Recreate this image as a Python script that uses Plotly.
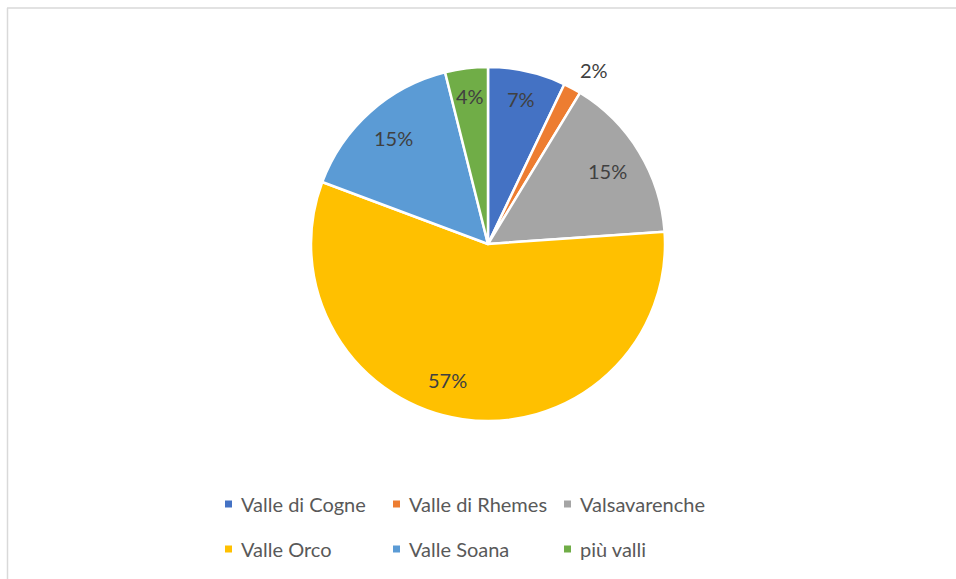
import math
import plotly.graph_objects as go

# Share of records by valley (percent)
valleys = ["Valle di Cogne", "Valle di Rhemes", "Valsavarenche",
           "Valle Orco", "Valle Soana", "più valli"]
shares = [7.1, 1.6, 15.2, 56.8, 15.4, 3.9]

colors = ["#4472C4", "#ED7D31", "#A5A5A5", "#FFC000", "#5B9BD5", "#70AD47"]

W, H = 956, 579
CX, CY, R = 488, 244, 177          # pie centre and radius in pixels
FONT = "Lato"
FSIZE = 20

# label radius as fraction of R (the thin slice gets its label outside)
label_r = [0.84, 1.15, 0.79, 0.80, 0.80, 0.84]
label_shift = [0, 3.0, 0, 8.5, 0, 0]   # degrees, clockwise

def px(x):
    return x / W

def py(y):
    return 1 - y / H

fig = go.Figure(go.Pie(
    labels=valleys,
    values=shares,
    sort=False,
    direction="clockwise",
    rotation=0,
    marker=dict(colors=colors, line=dict(color="white", width=2.5)),
    textinfo="none",
    hoverinfo="label+percent",
    showlegend=False,
    domain=dict(x=[px(CX - R), px(CX + R)], y=[py(CY + R), py(CY - R)]),
))

annotations = []
shapes = []

# percentage labels placed along each slice's mid-angle
total = sum(shares)
cum = 0.0
for i, v in enumerate(shares):
    mid = (cum + v / 2) / total * 360 + label_shift[i]
    cum += v
    a = math.radians(mid)
    r = R * label_r[i]
    x = CX + r * math.sin(a)
    y = CY - r * math.cos(a)
    annotations.append(dict(
        x=px(x), y=py(y), xref="paper", yref="paper",
        text=f"{round(v / total * 100)}%", showarrow=False,
        xanchor="center", yanchor="middle",
        font=dict(family=FONT, size=FSIZE, color="#404040"),
    ))

# legend: two rows of three entries
col_x = [225, 393, 564]
row_y = [504, 549]
for i, name in enumerate(valleys):
    cx = col_x[i % 3]
    cy = row_y[i // 3]
    shapes.append(dict(
        type="rect", xref="paper", yref="paper",
        x0=px(cx), x1=px(cx + 7), y0=py(cy + 3.5), y1=py(cy - 3.5),
        fillcolor=colors[i], line=dict(width=0),
    ))
    annotations.append(dict(
        x=px(cx + 14), y=py(cy), xref="paper", yref="paper",
        text=name, showarrow=False, xanchor="left", yanchor="middle",
        font=dict(family=FONT, size=FSIZE, color="#595959"),
    ))

# chart frame (top and left edges)
shapes.append(dict(type="line", xref="paper", yref="paper",
                   x0=px(7), x1=1, y0=py(8), y1=py(8),
                   line=dict(color="#D9D9D9", width=1.5)))
shapes.append(dict(type="line", xref="paper", yref="paper",
                   x0=px(7.5), x1=px(7.5), y0=py(8), y1=0,
                   line=dict(color="#D9D9D9", width=1.5)))

fig.update_layout(
    width=W, height=H,
    margin=dict(l=0, r=0, t=0, b=0),
    paper_bgcolor="white",
    plot_bgcolor="white",
    annotations=annotations,
    shapes=shapes,
    font=dict(family=FONT),
)

fig.write_html("out.html")
